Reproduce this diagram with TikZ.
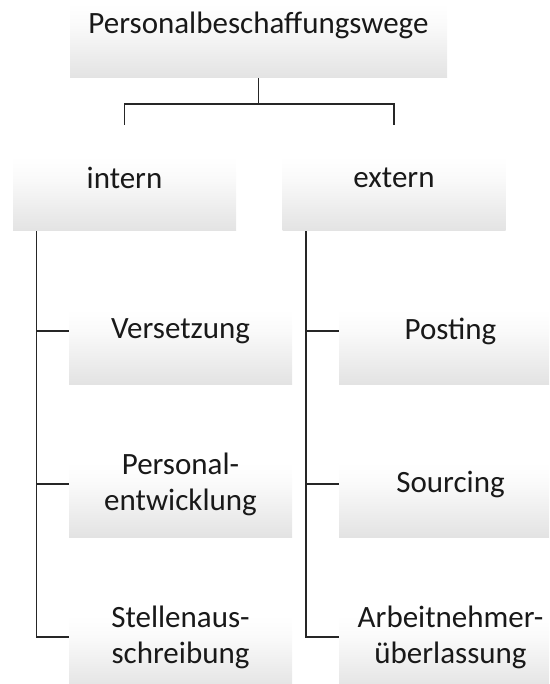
\documentclass[tikz,border=0pt]{standalone}
\usepackage{fontspec}
\setmainfont{Carlito}
% box fill: white over the upper part, fading to light grey at the bottom
\pgfdeclareverticalshading{boxfade}{100bp}{%
  color(0bp)=(black!11); color(25bp)=(black!11); color(50bp)=(black!2);
  color(60bp)=(white); color(100bp)=(white)}
\begin{document}
\begin{tikzpicture}[x=1pt,y=-1pt,
  box/.style={rectangle, minimum height=106pt, inner sep=0pt,
    shading=boxfade, align=center, text=black!90,
    font=\fontsize{31}{36}\selectfont},
  child/.style={box, minimum width=223pt},
  link/.style={line width=1.5pt, black!85}]
\clip (0,0) rectangle (549,684);

% root and the two branches
\node[box, minimum width=377pt] (root) at (258.5,25) {Personalbeschaffungswege};
\node[child] (intern) at (124.5,178) {intern};
\node[child] (extern) at (394,178) {extern};

% internal ways
\node[child] (vers) at (180.5,331) {Versetzung};
\node[child] (pent) at (180.5,484) {Personal-\\entwicklung};
\node[child] (saus) at (180.5,637) {Stellenaus-\\schreibung};

% external ways
\node[child] (post) at (450.5,331) {Posting};
\node[child] (sour) at (450.5,484) {Sourcing};
\node[child] (anue) at (450.5,637) {Arbeitnehmer-\\überlassung};

% root to branches
\coordinate (fork) at ([yshift=-26pt]root.south);
\draw[link] (root.south) -- (fork) -| (intern.north);
\draw[link] (fork) -| (extern.north);

% spines down the left side of each branch
\coordinate (ispine) at ([xshift=-88pt]intern.south);
\coordinate (espine) at ([xshift=-88pt]extern.south);
\foreach \c in {vers,pent,saus} \draw[link] (ispine) |- (\c.west);
\foreach \c in {post,sour,anue} \draw[link] (espine) |- (\c.west);
\end{tikzpicture}
\end{document}
